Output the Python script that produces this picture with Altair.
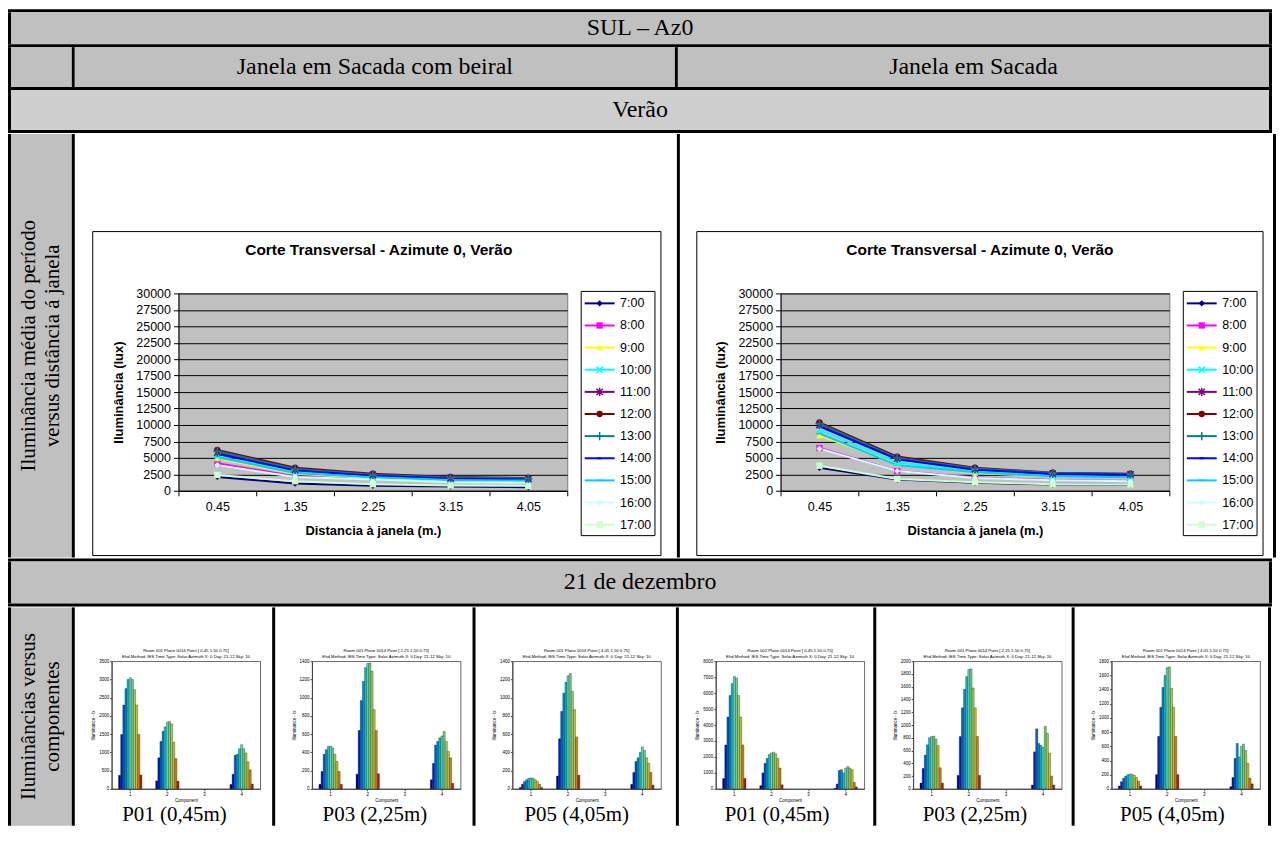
import altair as alt
import pandas as pd

SERIF = "Liberation Serif"
SANS = "Liberation Sans"

HOURS = ["7:00", "8:00", "9:00", "10:00", "11:00", "12:00",
         "13:00", "14:00", "15:00", "16:00", "17:00"]
DISTANCES = ["0.45", "1.35", "2.25", "3.15", "4.05"]
Y_TICKS_LINE = [0, 2500, 5000, 7500, 10000, 12500, 15000, 17500,
                20000, 22500, 25000, 27500, 30000]

# ---- average illuminance (lux) per hour, by distance to window ----
COM_BEIRAL = {
    "7:00":  [2100, 1100, 750, 650, 550],
    "8:00":  [4200, 2200, 1800, 1400, 1300],
    "9:00":  [4900, 2600, 1950, 1550, 1450],
    "10:00": [5200, 2800, 2100, 1700, 1600],
    "11:00": [5800, 3200, 2400, 1900, 1800],
    "12:00": [6200, 3500, 2600, 2100, 1950],
    "13:00": [6000, 3300, 2450, 2000, 1850],
    "14:00": [5600, 3100, 2300, 1850, 1700],
    "15:00": [5100, 2700, 2050, 1650, 1550],
    "16:00": [3900, 2100, 1700, 1300, 1200],
    "17:00": [2400, 1450, 1000, 800, 750],
}
SEM_BEIRAL = {
    "7:00":  [3500, 1700, 1200, 950, 900],
    "8:00":  [6500, 3000, 2000, 1650, 1500],
    "9:00":  [8400, 4100, 2700, 2150, 2000],
    "10:00": [9300, 4300, 2900, 2250, 2100],
    "11:00": [10000, 4900, 3300, 2600, 2500],
    "12:00": [10400, 5200, 3500, 2750, 2600],
    "13:00": [10200, 5000, 3400, 2700, 2550],
    "14:00": [9800, 4800, 3200, 2550, 2450],
    "15:00": [8700, 3900, 2800, 2200, 2050],
    "16:00": [6400, 3000, 1950, 1600, 1450],
    "17:00": [3800, 1800, 1300, 1000, 950],
}

LINE_COLORS = ["#000080", "#FF00FF", "#FFFF00", "#00FFFF", "#800080", "#800000",
               "#008080", "#0000FF", "#00CCFF", "#CCFFFF", "#CCFFCC"]
MARKERS = ["diamond", "square", "triangle-up",
           "M-1,-1L1,1M-1,1L1,-1",
           "M-1,-1L1,1M-1,1L1,-1M0,-1.3L0,1.3",
           "circle",
           "M-1.3,0L1.3,0M0,-1.3L0,1.3",
           "M-0.7,-0.3L0.7,-0.3L0.7,0.3L-0.7,0.3Z",
           "M-1.1,-0.25L1.1,-0.25L1.1,0.25L-1.1,0.25Z",
           "diamond", "square"]
STROKED_HOURS = ["10:00", "11:00", "13:00"]
FILLED_HOURS = [h for h in HOURS if h not in STROKED_HOURS]

# ---- component illuminance (lx), 21 December, components 1..4 ----
JET = ["#00008F", "#0020C0", "#0060D0", "#0090D0", "#10C0D0", "#50E0C0",
       "#70D080", "#A0D050", "#C8C030", "#D08020", "#B02010"]

B_P01 = {1: [370, 1490, 2300, 2750, 3000, 3050, 3000, 2720, 2300, 1490, 380],
         2: [220, 850, 1300, 1580, 1700, 1830, 1850, 1780, 1280, 830, 210],
         3: [0, 0, 0, 0, 0, 0, 0, 0, 0, 0, 0],
         4: [120, 400, 920, 950, 1100, 1210, 1100, 980, 740, 520, 130]}
B_P03 = {1: [50, 190, 380, 430, 465, 470, 450, 380, 300, 190, 50],
         2: [160, 640, 970, 1180, 1330, 1375, 1380, 1290, 870, 640, 165],
         3: [0, 0, 0, 0, 0, 0, 0, 0, 0, 0, 0],
         4: [100, 280, 480, 520, 560, 580, 630, 520, 410, 340, 60]}
B_P05 = {1: [15, 50, 80, 100, 115, 120, 115, 100, 80, 50, 15],
         2: [140, 550, 850, 1050, 1170, 1240, 1265, 1070, 870, 570, 150],
         3: [0, 0, 0, 0, 0, 0, 0, 0, 0, 0, 0],
         4: [50, 180, 300, 340, 400, 460, 420, 340, 280, 180, 40]}
S_P01 = {1: [650, 2750, 4500, 5850, 6600, 7050, 6950, 5850, 4500, 2750, 650],
         2: [200, 1000, 1600, 1900, 2150, 2250, 2300, 2200, 1900, 1300, 250],
         3: [0, 0, 0, 0, 0, 0, 0, 0, 0, 0, 0],
         4: [40, 300, 1150, 1200, 1000, 1300, 1400, 1300, 1200, 400, 120]}
S_P03 = {1: [90, 320, 530, 690, 800, 820, 825, 780, 680, 330, 90],
         2: [210, 820, 1270, 1560, 1760, 1870, 1880, 1580, 1270, 820, 210],
         3: [0, 0, 0, 0, 0, 0, 0, 0, 0, 0, 0],
         4: [60, 580, 940, 710, 680, 650, 980, 870, 560, 200, 60]}
S_P05 = {1: [40, 100, 150, 180, 200, 210, 205, 190, 160, 110, 40],
         2: [200, 740, 1150, 1430, 1600, 1710, 1720, 1420, 1150, 740, 200],
         3: [0, 0, 0, 0, 0, 0, 0, 0, 0, 0, 0],
         4: [30, 160, 430, 640, 450, 600, 630, 540, 360, 150, 70]}

LINE_TITLE = "Corte Transversal - Azimute 0, Verão"
MINI_TITLE2 = "Ehd Method: IES   Time Type: Solar   Azimuth X: 0   Day: 21-12   Sky: 10"

DUMMY = pd.DataFrame({"k": [0]})
GRAY = "#C0C0C0"
RES = dict(x="independent", y="independent", color="independent",
           shape="independent", xOffset="independent")

# row heights (content) and plot-origin offsets inside rows
H1, H2, H3, H4, H5, H6 = 32, 40, 40, 425, 42, 219
T4, T6 = 160, 54
MINI_H = 128
# mini cell widths (slightly reduced: their axes add ~2px each to the layout)
MINI_W = [196, 196, 199, 193, 194, 192]


def view(fill="transparent", stroke="transparent", sw=0):
    return alt.ViewBackground(fill=fill, stroke=stroke, strokeWidth=sw)


def area(x0, x1, y0, y1, fill="white", opacity=1.0):
    return alt.Chart(DUMMY).mark_rect(fill=fill, fillOpacity=opacity, strokeWidth=0).encode(
        x=alt.value(x0), x2=alt.value(x1), y=alt.value(y0), y2=alt.value(y1))


def label(text, x, y, font, size, weight="normal", angle=0):
    kw = dict(font=font, fontSize=size, fontWeight=weight, color="black", align="center",
              baseline="middle", text=text)
    if angle:
        kw["angle"] = angle
    return alt.Chart(DUMMY).mark_text(**kw).encode(x=alt.value(x), y=alt.value(y))


def block(w, h, fill, top=0):
    # cell whose origin sits `top` px below its upper edge (aligns with plot origins in a row)
    return area(0, w, -top, h - top, fill).properties(width=w, height=h - top)


def text_cell(text, w, h, fill, size, top=0):
    txt = label(text, w / 2, h / 2 - top, SERIF, size)
    return alt.layer(area(0, w, -top, h - top, fill), txt).properties(width=w, height=h - top)


def side_cell(lines, w, h, top, size=21, gap=24):
    # vertical (rotated) two-line row label
    layers = [area(0, w, -top, h - top, GRAY)]
    n = len(lines)
    for i, t in enumerate(lines):
        xc = w / 2 + (i - (n - 1) / 2) * gap
        layers.append(label(t, xc, h / 2 - top, SERIF, size, angle=270))
    return alt.layer(*layers).properties(width=w, height=h - top)


def hc(*items):
    return alt.hconcat(*items, spacing=0).resolve_scale(**RES)


def vc(*items):
    return alt.vconcat(*items, spacing=0).resolve_scale(**RES)


def line_cell(values, w, left, frame, title_dx):
    H, top = H4, T4
    rows = []
    for h in HOURS:
        for d, v in zip(DISTANCES, values[h]):
            rows.append({"hour": h, "dist": d, "lux": v})
    df = pd.DataFrame(rows)
    color = alt.Color("hour:N", scale=alt.Scale(domain=HOURS, range=LINE_COLORS), legend=None)
    shape = alt.Shape("hour:N", scale=alt.Scale(domain=HOURS, range=MARKERS), legend=None)
    x = alt.X("dist:O", sort=DISTANCES,
              scale=alt.Scale(type="band", domain=DISTANCES, paddingInner=0, paddingOuter=0),
              axis=alt.Axis(title="Distancia à janela (m.)", labelAngle=0, tickBand="extent",
                            labelFont=SANS, labelFontSize=12.5, labelColor="black",
                            titleFont=SANS, titleFontSize=13, titleFontWeight="bold",
                            titleColor="black", titlePadding=11, labelPadding=5,
                            tickSize=5, tickColor="black", domainColor="black", grid=False))
    y = alt.Y("lux:Q", scale=alt.Scale(domain=[0, 30000], nice=False),
              axis=alt.Axis(values=Y_TICKS_LINE, format="d", title="Iluminância (lux)",
                            labelFont=SANS, labelFontSize=12.5, labelColor="black",
                            labelFlush=False, labelOverlap=False, labelPadding=3,
                            titleFont=SANS, titleFontSize=13, titleFontWeight="bold",
                            titleColor="black", titlePadding=10,
                            tickSize=5, tickColor="black", domainColor="black",
                            grid=True, gridColor="black", gridWidth=1))
    base = alt.Chart(df).encode(x=x, y=y, color=color)
    lines = base.mark_line(strokeWidth=2)
    pf = base.transform_filter(alt.FieldOneOfPredicate(field="hour", oneOf=FILLED_HOURS)).mark_point(
        filled=True, size=40, opacity=1).encode(shape=shape)
    ps = base.transform_filter(alt.FieldOneOfPredicate(field="hour", oneOf=STROKED_HOURS)).mark_point(
        filled=False, size=40, opacity=1, strokeWidth=1.5).encode(shape=shape)
    data_layer = alt.layer(lines, pf, ps)

    # legend (box with line + marker per hour)
    ldf = pd.DataFrame({"hour": HOURS})
    lx = 404
    ly = alt.Y("hour:N", sort=HOURS,
               scale=alt.Scale(type="point", domain=HOURS, range=[10, 232], padding=0), axis=None)
    lbase = alt.Chart(ldf).encode(y=ly)
    lbox = alt.Chart(DUMMY).mark_rect(fill="white", stroke="black", strokeWidth=1).encode(
        x=alt.value(lx), x2=alt.value(lx + 74), y=alt.value(-2), y2=alt.value(243))
    lrule = lbase.mark_rule(strokeWidth=2).encode(x=alt.value(lx + 3.5), x2=alt.value(lx + 33.5), color=color)
    lpf = lbase.transform_filter(alt.FieldOneOfPredicate(field="hour", oneOf=FILLED_HOURS)).mark_point(
        filled=True, size=40, opacity=1).encode(x=alt.value(lx + 18.5), color=color, shape=shape)
    lps = lbase.transform_filter(alt.FieldOneOfPredicate(field="hour", oneOf=STROKED_HOURS)).mark_point(
        filled=False, size=40, opacity=1, strokeWidth=1.5).encode(x=alt.value(lx + 18.5), color=color, shape=shape)
    ltxt = lbase.mark_text(align="left", baseline="middle", font=SANS, fontSize=12.5, color="black").encode(
        x=alt.value(lx + 39), text="hour:N")
    legend_layer = alt.layer(lrule, lpf, lps, ltxt)

    cell = area(-left, w - left, -top, H - top, "white", 0)
    box = alt.Chart(DUMMY).mark_rect(fillOpacity=0, stroke="black", strokeWidth=1).encode(
        x=alt.value(frame[0]), x2=alt.value(frame[1]), y=alt.value(frame[2]), y2=alt.value(frame[3]))
    ttl = label(LINE_TITLE, 195 + title_dx, -44, SANS, 15.5, weight="bold")
    return alt.layer(cell, box, ttl, data_layer, lbox, legend_layer).resolve_scale(y="independent").properties(
        width=390, height=198, view=view("#C0C0C0", "#808080", 1))


def mini_cell(data, ymax, ystep, point, caption, w):
    H, top, left = H6, T6, 36
    rows = []
    for comp in [1, 2, 3, 4]:
        for h, v in zip(HOURS, data[comp]):
            rows.append({"comp": comp, "hora": h, "lux": v})
    df = pd.DataFrame(rows)
    x = alt.X("comp:O", scale=alt.Scale(domain=[1, 2, 3, 4], paddingInner=0.37, paddingOuter=0.185),
              axis=alt.Axis(title="Component", labelAngle=0, labelFont=SANS, labelFontSize=4.5,
                            labelColor="black", titleFont=SANS, titleFontSize=4.5,
                            titleFontWeight="normal", titleColor="black", tickSize=2,
                            labelPadding=1, titlePadding=1, tickColor="#444", domainColor="#444"))
    xo = alt.XOffset("hora:N", sort=HOURS, scale=alt.Scale(domain=HOURS, paddingInner=0, paddingOuter=0))
    y = alt.Y("lux:Q", scale=alt.Scale(domain=[0, ymax], nice=False),
              axis=alt.Axis(values=list(range(0, ymax + 1, ystep)), format="d", title="Illuminance - lx",
                            labelFont=SANS, labelFontSize=4.5, labelColor="black", labelFlush=False,
                            titleFont=SANS, titleFontSize=4.5, titleFontWeight="normal",
                            titleColor="black", titlePadding=3, tickSize=2, labelPadding=1,
                            tickColor="#444", domainColor="#444", grid=False))
    bars = alt.Chart(df).transform_filter("datum.lux > 0").mark_bar(stroke="black", strokeWidth=0.3).encode(
        x=x, xOffset=xo, y=y,
        color=alt.Color("hora:N", scale=alt.Scale(domain=HOURS, range=JET), legend=None))
    cell = area(-left, w - left, -top, H - top, "white", 0)
    t1 = label("Room 001 Plane 0014 Point [ %s   1.50   0.75]" % point, 74.5, -10, SANS, 4.3)
    t2 = label(MINI_TITLE2, 74.5, -4.5, SANS, 4.3)
    cap = label(caption, w / 2 - left + 1, 154, SERIF, 21)
    return alt.layer(cell, t1, t2, bars, cap).properties(
        width=149, height=MINI_H, view=view("white", "#444", 0.8))


def vbar(h, top=0):
    return block(3, h, "black", top)


def hbar():
    return block(1268, 3, "black")


row1 = hc(vbar(H1), text_cell("SUL – Az0", 1262, H1, GRAY, 24), vbar(H1))
row2 = hc(vbar(H2), block(61, H2, GRAY), vbar(H2),
          text_cell("Janela em Sacada com beiral", 602, H2, GRAY, 24), vbar(H2),
          text_cell("Janela em Sacada", 593, H2, GRAY, 24), vbar(H2))
row3 = hc(vbar(H3), text_cell("Verão", 1262, H3, "#CFCFCF", 24), vbar(H3))
row4 = hc(vbar(H4, T4),
          side_cell(["Iluminância média do período", "versus distância á janela"], 61, H4, T4),
          vbar(H4, T4),
          line_cell(COM_BEIRAL, 602, 103, (-86, 484, -62, 263), 6),
          vbar(H4, T4),
          line_cell(SEM_BEIRAL, 593, 100, (-84, 484, -62, 263), 5),
          vbar(H4, T4))
row5 = hc(vbar(H5), text_cell("21 de dezembro", 1262, H5, GRAY, 24), vbar(H5))
row6 = hc(vbar(H6, T6),
          side_cell(["Iluminâncias versus", "componentes"], 61, H6, T6),
          vbar(H6, T6),
          mini_cell(B_P01, 3500, 500, "0.45", "P01 (0,45m)", MINI_W[0]), vbar(H6, T6),
          mini_cell(B_P03, 1400, 200, "2.25", "P03 (2,25m)", MINI_W[1]), vbar(H6, T6),
          mini_cell(B_P05, 1400, 200, "4.05", "P05 (4,05m)", MINI_W[2]), vbar(H6, T6),
          mini_cell(S_P01, 8000, 1000, "0.45", "P01 (0,45m)", MINI_W[3]), vbar(H6, T6),
          mini_cell(S_P03, 2000, 200, "2.25", "P03 (2,25m)", MINI_W[4]), vbar(H6, T6),
          mini_cell(S_P05, 1800, 200, "4.05", "P05 (4,05m)", MINI_W[5]), vbar(H6, T6))

chart = vc(hbar(), row1, hbar(), row2, hbar(), row3, hbar(), row4, hbar(), row5, hbar(), row6).properties(
    padding=0, background="white"
).configure(font=SANS).configure_view(strokeWidth=0)

chart.save("out.html", embed_options={"renderer": "svg", "actions": False})
